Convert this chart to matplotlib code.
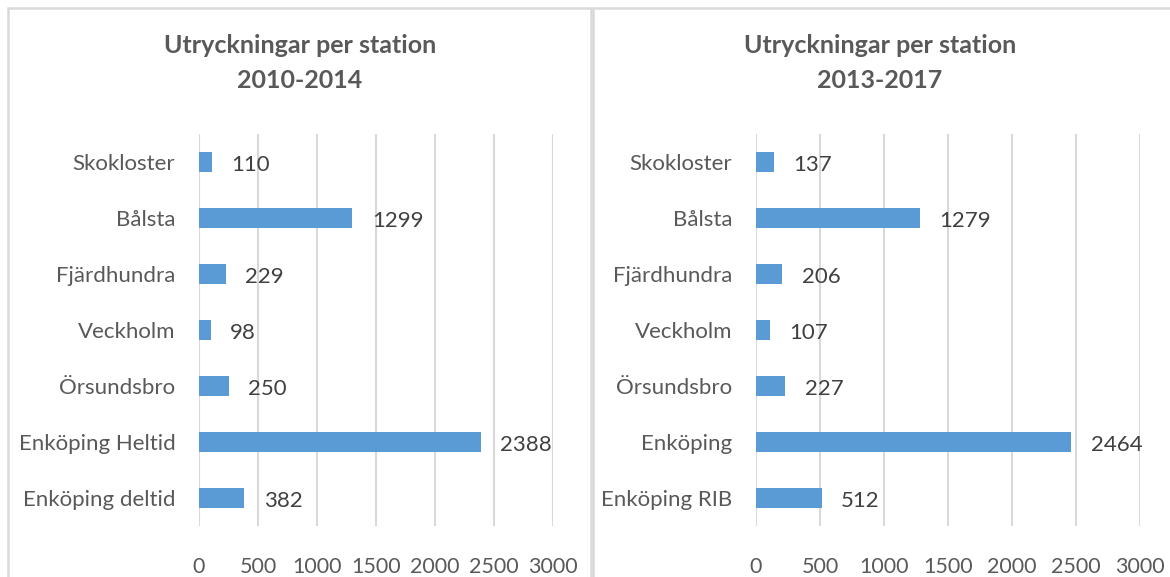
import matplotlib.pyplot as plt
from matplotlib.patches import Rectangle

# Data
stations_a = ['Skokloster', 'Bålsta', 'Fjärdhundra', 'Veckholm', 'Örsundsbro', 'Enköping Heltid', 'Enköping deltid']
values_a = [110, 1299, 229, 98, 250, 2388, 382]
stations_b = ['Skokloster', 'Bålsta', 'Fjärdhundra', 'Veckholm', 'Örsundsbro', 'Enköping', 'Enköping RIB']
values_b = [137, 1279, 206, 107, 227, 2464, 512]
titles = ['Utryckningar per station\n2010-2014', 'Utryckningar per station\n2013-2017']
xticks = [0, 500, 1000, 1500, 2000, 2500, 3000]

plt.rcParams['font.family'] = ['Lato', 'DejaVu Sans']
bar_color = '#5B9BD5'
grid_color = '#D9D9D9'
text_color = '#595959'

fig = plt.figure(figsize=(11.7, 5.77), dpi=100)
W, H = 1170, 577

# panel frames (pixel coords converted to figure fractions)
for x0, x1 in [(8, 591), (593, 1180)]:
    fig.add_artist(Rectangle((x0 / W, -0.05), (x1 - x0) / W, 1.05 - 8 / H,
                             transform=fig.transFigure, fill=False,
                             edgecolor=grid_color, lw=1.8))

# (axes left px, axes width px, names, values, title, title centre px)
panels = [(199, 354, stations_a, values_a, titles[0], 300),
          (756, 384, stations_b, values_b, titles[1], 880)]

for left_px, width_px, names, vals, title, title_x in panels:
    ax = fig.add_axes([left_px / W, 1 - 526 / H, width_px / W, 392 / H])
    y = list(range(len(names)))
    ax.barh(y, vals, height=0.36, color=bar_color, zorder=3)
    for yi, v in zip(y, vals):
        ax.annotate(str(v), (v, yi), xytext=(14, -2.5), textcoords='offset points',
                    va='center', ha='left', fontsize=16, color='#404040')
    ax.set_yticks(y)
    ax.set_yticklabels(names, fontsize=16, color=text_color)
    ax.set_ylim(len(names) - 0.5, -0.5)
    ax.set_xlim(0, 3000)
    ax.set_xticks(xticks)
    ax.set_xticklabels([str(t) for t in xticks], fontsize=15.5, color=text_color)
    ax.tick_params(axis='x', length=0, pad=22)
    ax.tick_params(axis='y', length=0, pad=17)
    ax.grid(axis='x', color=grid_color, lw=1.5, zorder=0)
    for s in ax.spines.values():
        s.set_visible(False)
    fig.text(title_x / W, 1 - 63 / H, title, ha='center', va='center',
             fontsize=18, fontweight='bold', color=text_color, linespacing=1.6)

fig.savefig('out.png', dpi=100)
